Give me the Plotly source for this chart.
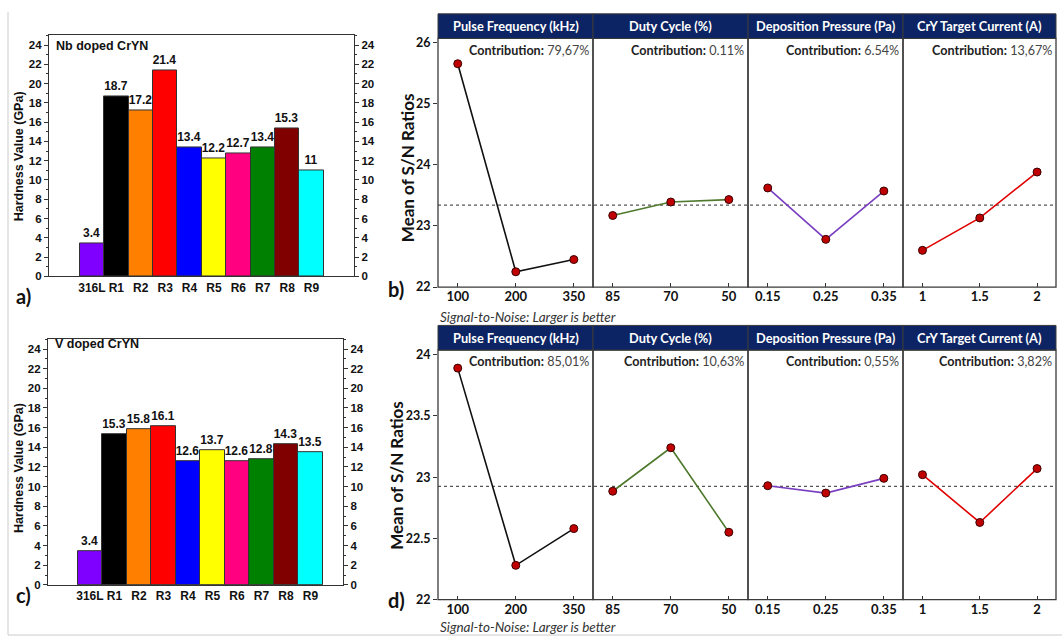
import plotly.graph_objects as go

W, H = 1062, 644

# ---------------- data ----------------
bar_categories = ['316L', 'R1', 'R2', 'R3', 'R4', 'R5', 'R6', 'R7', 'R8', 'R9']
nb_hardness = [3.4, 18.7, 17.2, 21.4, 13.4, 12.2, 12.7, 13.4, 15.3, 11]
v_hardness = [3.4, 15.3, 15.8, 16.1, 12.6, 13.7, 12.6, 12.8, 14.3, 13.5]
bar_ticks = [0, 2, 4, 6, 8, 10, 12, 14, 16, 18, 20, 22, 24]

factors = ['Pulse Frequency (kHz)', 'Duty Cycle (%)', 'Deposition Pressure (Pa)', 'CrY Target Current (A)']
levels = [['100', '200', '350'], ['85', '70', '50'], ['0.15', '0.25', '0.35'], ['1', '1.5', '2']]

sn_nb_pulse = [25.65, 22.25, 22.45]
sn_nb_duty = [23.17, 23.39, 23.43]
sn_nb_press = [23.62, 22.78, 23.57]
sn_nb_current = [22.60, 23.13, 23.88]
contrib_nb = ['79,67%', '0.11%', '6.54%', '13,67%']
mean_nb = 23.34
ticks_nb = [22, 23, 24, 25, 26]

sn_v_pulse = [23.89, 22.28, 22.58]
sn_v_duty = [22.885, 23.24, 22.55]
sn_v_press = [22.93, 22.87, 22.99]
sn_v_current = [23.02, 22.63, 23.07]
contrib_v = ['85,01%', '10,63%', '0,55%', '3,82%']
mean_v = 22.925
ticks_v = [22, 22.5, 23, 23.5, 24]

# ---------------- styles ----------------
bar_colors = ['#8000FF', '#000000', '#FF8000', '#FF0000', '#0000FF', '#FFFF00',
              '#FF0080', '#008000', '#800000', '#00FFFF']
line_colors = ['#111111', '#4F7A2E', '#7A3FC0', '#E00000']
NAVY = '#0C2463'
ARIAL = 'Liberation Sans'
CAL = 'Lato'


def fx(a, b):
    return [a / W, b / W]


def fy(top, bottom):
    return [1 - bottom / H, 1 - top / H]


fig = go.Figure()
layout = {}
shapes = []
annotations = []

# ---------------- bar charts ----------------
bar_specs = [
    dict(vals=nb_hardness, xa='x', ya='y', ya2='y2', xdom=fx(49, 354), ydom=fy(32, 277),
         xr=[-1.76, 10.74], label='Nb doped CrYN', lab_xy=(54, 43), title_y=155,
         panel='a)', panel_xy=(14, 297)),
    dict(vals=v_hardness, xa='x2', ya='y3', ya2='y4', xdom=fx(48, 343), ydom=fy(341, 591),
         xr=[-1.71, 10.33], label='V doped CrYN', lab_xy=(53, 346), title_y=472,
         panel='c)', panel_xy=(14, 601)),
]

for s in bar_specs:
    fig.add_trace(go.Bar(
        x=bar_categories, y=s['vals'], xaxis=s['xa'], yaxis=s['ya'],
        marker=dict(color=bar_colors, line=dict(color='#333333', width=1)),
        width=1, text=[str(v) for v in s['vals']], textposition='outside',
        constraintext='none', cliponaxis=False,
        textfont=dict(family=ARIAL, size=12, color='#111', weight='bold'),
        showlegend=False, hoverinfo='skip'))
    fig.add_trace(go.Scatter(
        x=bar_categories, y=s['vals'], xaxis=s['xa'], yaxis=s['ya2'],
        mode='markers', marker=dict(opacity=0), showlegend=False, hoverinfo='skip'))
    xk = 'xaxis' + s['xa'][1:]
    yk = 'yaxis' + s['ya'][1:]
    yk2 = 'yaxis' + s['ya2'][1:]
    layout[xk] = dict(domain=s['xdom'], anchor=s['ya'], type='category', range=s['xr'],
                      showline=True, linecolor='#333', linewidth=1.2, mirror=True,
                      ticks='', showgrid=False, zeroline=False,
                      tickfont=dict(family=ARIAL, size=12, color='#111', weight='bold'))
    common_y = dict(range=[0, 25], tickvals=bar_ticks, ticks='outside', ticklen=4,
                    tickcolor='#333', showline=True, linecolor='#333', linewidth=1.2,
                    showgrid=False, zeroline=False,
                    minor=dict(ticks='outside', ticklen=2, dtick=1, tickcolor='#333', showgrid=False),
                    tickfont=dict(family=ARIAL, size=11.5, color='#111', weight='bold'))
    layout[yk] = dict(domain=s['ydom'], anchor=s['xa'], side='left', **common_y)
    layout[yk2] = dict(anchor=s['xa'], overlaying=s['ya'], side='right', **common_y)
    annotations.append(dict(text=s['label'], xref='paper', yref='paper',
                            x=s['lab_xy'][0] / W, y=1 - s['lab_xy'][1] / H,
                            xanchor='left', yanchor='middle', showarrow=False,
                            font=dict(family=ARIAL, size=12.5, color='#111', weight='bold')))
    annotations.append(dict(text='Hardness Value (GPa)', xref='paper', yref='paper',
                            x=19 / W, y=1 - s['title_y'] / H, textangle=-90,
                            xanchor='center', yanchor='middle', showarrow=False,
                            font=dict(family=ARIAL, size=12.5, color='#111', weight='bold')))
    annotations.append(dict(text=s['panel'], xref='paper', yref='paper',
                            x=s['panel_xy'][0] / W, y=1 - s['panel_xy'][1] / H,
                            xanchor='left', yanchor='middle', showarrow=False,
                            font=dict(family=CAL, size=20, color='#111', weight='bold')))

# ---------------- S/N panels ----------------
panel_x = [438, 593, 748, 903, 1056]
sn_specs = [
    dict(data=[sn_nb_pulse, sn_nb_duty, sn_nb_press, sn_nb_current], contrib=contrib_nb,
         mean=mean_nb, ticks=ticks_nb, yr=[22, 26.064], head=(10, 35), bottom=288,
         xaxes=['x3', 'x4', 'x5', 'x6'], ya='y5', title_x=407, title_y=167, sig_y=318,
         panel='b)', panel_y=290),
    dict(data=[sn_v_pulse, sn_v_duty, sn_v_press, sn_v_current], contrib=contrib_v,
         mean=mean_v, ticks=ticks_v, yr=[22, 24.038], head=(327, 352), bottom=606,
         xaxes=['x7', 'x8', 'x9', 'x10'], ya='y6', title_x=397, title_y=480, sig_y=634,
         panel='d)', panel_y=606),
]

for s in sn_specs:
    top = s['head'][1]
    bot = s['bottom']
    yk = 'yaxis' + s['ya'][1:]
    layout[yk] = dict(domain=fy(top, bot), anchor=s['xaxes'][0], range=s['yr'],
                      tickvals=s['ticks'], ticks='outside', ticklen=4, tickcolor='#333',
                      showline=False, showgrid=False, zeroline=False,
                      tickfont=dict(family=CAL, size=12.5, color='#111', weight='bold'))
    for i in range(4):
        xa = s['xaxes'][i]
        xk = 'xaxis' + xa[1:]
        layout[xk] = dict(domain=fx(panel_x[i], panel_x[i + 1]), anchor=s['ya'],
                          type='category', range=[-0.34, 2.33], ticks='inside', ticklen=4,
                          tickcolor='#333', showline=False, showgrid=False, zeroline=False,
                          tickfont=dict(family=CAL, size=13, color='#111', weight='bold'))
        fig.add_trace(go.Scatter(
            x=levels[i], y=s['data'][i], xaxis=xa, yaxis=s['ya'], mode='lines+markers',
            line=dict(color=line_colors[i], width=1.6),
            marker=dict(color='#C00000', size=8, line=dict(color='#3a0000', width=1)),
            cliponaxis=False, showlegend=False, hoverinfo='skip'))
        # panel frame
        shapes.append(dict(type='rect', xref='paper', yref='paper',
                           x0=panel_x[i] / W, x1=panel_x[i + 1] / W,
                           y0=1 - bot / H, y1=1 - top / H,
                           line=dict(color='#3a3a3a', width=1.3), layer='above'))
        # header
        shapes.append(dict(type='rect', xref='paper', yref='paper',
                           x0=panel_x[i] / W, x1=panel_x[i + 1] / W,
                           y0=1 - s['head'][1] / H, y1=1 - s['head'][0] / H,
                           fillcolor=NAVY, line=dict(color='#3a3a3a', width=1)))
        annotations.append(dict(text=factors[i], xref='paper', yref='paper',
                                x=(panel_x[i] + panel_x[i + 1]) / 2 / W,
                                y=1 - (s['head'][0] + s['head'][1]) / 2 / H,
                                xanchor='center', yanchor='middle', showarrow=False,
                                font=dict(family=CAL, size=12.8, color='white', weight='bold')))
        annotations.append(dict(text='<b>Contribution:</b> <span style="color:#444">'
                                + s['contrib'][i] + '</span>',
                                xref='paper', yref='paper',
                                x=(panel_x[i + 1] - 2) / W, y=1 - (top + 12) / H,
                                xanchor='right', yanchor='middle', showarrow=False,
                                font=dict(family=CAL, size=12.6, color='#222')))
    # mean dashed line
    shapes.append(dict(type='line', xref='paper', yref=s['ya'],
                       x0=panel_x[0] / W, x1=panel_x[-1] / W, y0=s['mean'], y1=s['mean'],
                       line=dict(color='#555', width=1.1, dash='3px,3px'), layer='below'))
    annotations.append(dict(text='Mean of S/N Ratios', xref='paper', yref='paper',
                            x=s['title_x'] / W, y=1 - s['title_y'] / H, textangle=-90,
                            xanchor='center', yanchor='middle', showarrow=False,
                            font=dict(family=CAL, size=17, color='#111', weight='bold')))
    annotations.append(dict(text='<i>Signal-to-Noise: Larger is better</i>',
                            xref='paper', yref='paper', x=438 / W, y=1 - s['sig_y'] / H,
                            xanchor='left', yanchor='middle', showarrow=False,
                            font=dict(family=CAL, size=13.5, color='#333')))
    annotations.append(dict(text=s['panel'], xref='paper', yref='paper',
                            x=386 / W, y=1 - s['panel_y'] / H,
                            xanchor='left', yanchor='middle', showarrow=False,
                            font=dict(family=CAL, size=20, color='#111', weight='bold')))

# outer faint frame lines
shapes.append(dict(type='line', xref='paper', yref='paper', x0=8 / W, x1=8 / W,
                   y0=1 - 642 / H, y1=1 - 8 / H, line=dict(color='#cccccc', width=1)))
shapes.append(dict(type='line', xref='paper', yref='paper', x0=8 / W, x1=1,
                   y0=1 - 642 / H, y1=1 - 642 / H, line=dict(color='#cccccc', width=1)))

fig.update_layout(
    width=W, height=H, margin=dict(l=0, r=0, t=0, b=0),
    paper_bgcolor='white', plot_bgcolor='white', bargap=0,
    showlegend=False, shapes=shapes, annotations=annotations, **layout)

fig.write_html('out.html')
